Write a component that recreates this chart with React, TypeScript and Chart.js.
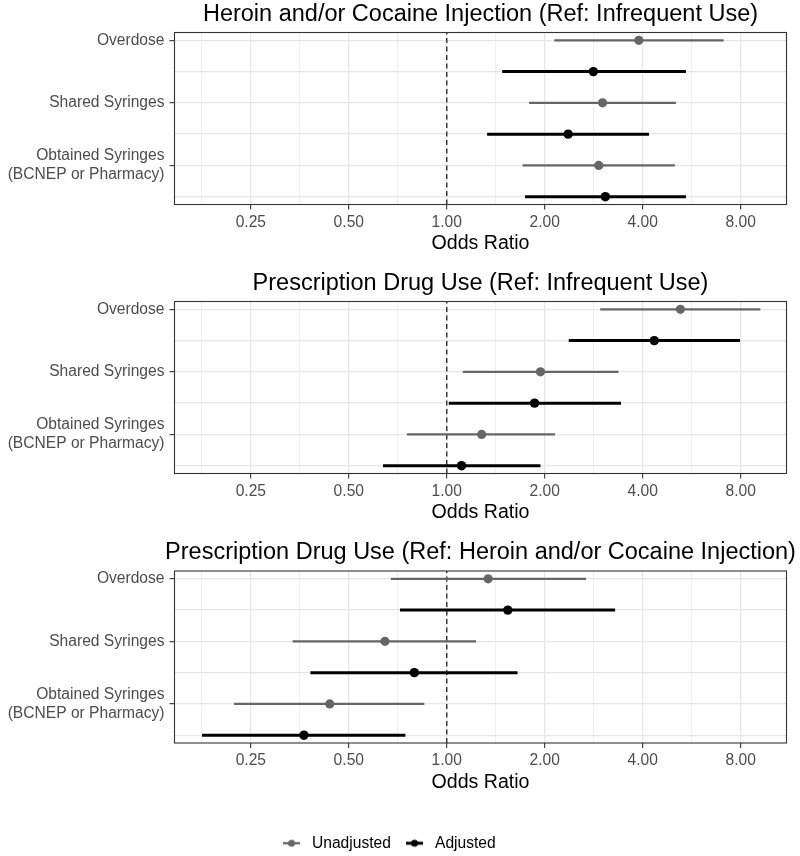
import React, { useEffect, useRef } from 'react';
import { Chart, registerables } from 'chart.js';

Chart.register(...registerables);

const FONT = "'Liberation Sans', Arial, sans-serif";
const GREY = '#666666';
const BLACK = '#000000';

// ---- Data ----
const outcomeLabels: (string | string[])[] = [
  'Overdose',
  'Shared Syringes',
  ['Obtained Syringes', '(BCNEP or Pharmacy)'],
];
const panelTitles = [
  'Heroin and/or Cocaine Injection (Ref: Infrequent Use)',
  'Prescription Drug Use (Ref: Infrequent Use)',
  'Prescription Drug Use (Ref: Heroin and/or Cocaine Injection)',
];
const seriesNames = ['Unadjusted', 'Adjusted'];
const xMajorTicks = [0.25, 0.5, 1, 2, 4, 8];
const xMinorTicks = [0.1768, 0.3536, 0.7071, 1.4142, 2.8284, 5.6569];
const xLimits = [0.1457, 11.06];
const rowUnadjusted = [6, 4, 2];
const rowAdjusted = [5, 3, 1];
const yLimits = [0.75, 6.25];
const referenceOR = 1;

// Panel 1: Heroin and/or Cocaine Injection (Ref: Infrequent Use)
const p1UnadjOR = [3.89, 3.01, 2.93];
const p1UnadjLo = [2.14, 1.79, 1.71];
const p1UnadjHi = [7.09, 5.06, 5.02];
const p1AdjOR = [2.82, 2.36, 3.07];
const p1AdjLo = [1.48, 1.33, 1.74];
const p1AdjHi = [5.43, 4.18, 5.43];

// Panel 2: Prescription Drug Use (Ref: Infrequent Use)
const p2UnadjOR = [5.22, 1.94, 1.28];
const p2UnadjLo = [2.96, 1.12, 0.755];
const p2UnadjHi = [9.19, 3.37, 2.15];
const p2AdjOR = [4.34, 1.86, 1.11];
const p2AdjLo = [2.37, 1.014, 0.637];
const p2AdjHi = [7.96, 3.43, 1.94];

// Panel 3: Prescription Drug Use (Ref: Heroin and/or Cocaine Injection)
const p3UnadjOR = [1.34, 0.646, 0.437];
const p3UnadjLo = [0.673, 0.336, 0.222];
const p3UnadjHi = [2.68, 1.23, 0.853];
const p3AdjOR = [1.54, 0.795, 0.364];
const p3AdjLo = [0.718, 0.381, 0.177];
const p3AdjHi = [3.29, 1.65, 0.746];

const panels = [
  { title: panelTitles[0], uOR: p1UnadjOR, uLo: p1UnadjLo, uHi: p1UnadjHi, aOR: p1AdjOR, aLo: p1AdjLo, aHi: p1AdjHi },
  { title: panelTitles[1], uOR: p2UnadjOR, uLo: p2UnadjLo, uHi: p2UnadjHi, aOR: p2AdjOR, aLo: p2AdjLo, aHi: p2AdjHi },
  { title: panelTitles[2], uOR: p3UnadjOR, uLo: p3UnadjLo, uHi: p3UnadjHi, aOR: p3AdjOR, aLo: p3AdjLo, aHi: p3AdjHi },
];

// ---- Layout (per canvas) ----
const canvasTops = [0, 269, 538];
const canvasHeights = [269, 269, 323];
const padTops = [32.5, 32.5, 33];
const xAxisHeights = [64.5, 64.5, 69.5];
const xTitlePadBottom = [13.2, 13.2, 17.7];
const TICK_SIZE = 15.6;

function makeKey(color: string, lw: number) {
  const c = document.createElement('canvas');
  c.width = 29;
  c.height = 12;
  const g = c.getContext('2d')!;
  g.strokeStyle = color;
  g.lineWidth = lw;
  g.beginPath();
  g.moveTo(0, 6);
  g.lineTo(17, 6);
  g.stroke();
  g.fillStyle = color;
  g.beginPath();
  g.arc(8.5, 6, 3.5, 0, Math.PI * 2);
  g.fill();
  return c;
}

const framePlugin = {
  id: 'panelFrame',
  afterDatasetsDraw(chart: any) {
    const { ctx, chartArea } = chart;
    ctx.save();
    ctx.strokeStyle = '#333333';
    ctx.lineWidth = 1.1;
    ctx.strokeRect(chartArea.left, chartArea.top, chartArea.right - chartArea.left, chartArea.bottom - chartArea.top);
    ctx.restore();
  },
};

const panelTitlePlugin = {
  id: 'panelTitle',
  afterDraw(chart: any, _args: any, opts: any) {
    const { ctx, chartArea } = chart;
    ctx.save();
    ctx.font = `23.5px ${FONT}`;
    ctx.fillStyle = '#000000';
    ctx.textAlign = 'center';
    ctx.textBaseline = 'alphabetic';
    ctx.fillText(opts.text, (chartArea.left + chartArea.right) / 2, chartArea.top - 11.6);
    ctx.restore();
  },
};

function Panel({ index }: { index: number }) {
  const ref = useRef<HTMLCanvasElement | null>(null);
  useEffect(() => {
    const p = panels[index];
    const datasets: any[] = [];
    datasets.push({
      label: 'ref',
      data: [
        { x: referenceOR, y: yLimits[0] },
        { x: referenceOR, y: yLimits[1] },
      ],
      borderColor: '#222222',
      borderWidth: 1.3,
      borderDash: [5, 3.5],
      pointRadius: 0,
      order: 3,
    });
    for (let i = 0; i < 3; i++) {
      datasets.push({
        label: 'u' + i,
        data: [
          { x: p.uLo[i], y: rowUnadjusted[i] },
          { x: p.uHi[i], y: rowUnadjusted[i] },
        ],
        borderColor: GREY,
        borderWidth: 2.3,
        pointRadius: 0,
        order: 2,
      });
      datasets.push({
        label: 'a' + i,
        data: [
          { x: p.aLo[i], y: rowAdjusted[i] },
          { x: p.aHi[i], y: rowAdjusted[i] },
        ],
        borderColor: BLACK,
        borderWidth: 3,
        pointRadius: 0,
        order: 2,
      });
    }
    datasets.push({
      label: seriesNames[0],
      data: p.uOR.map((v, i) => ({ x: v, y: rowUnadjusted[i] })),
      showLine: false,
      pointRadius: 4.6,
      pointBorderWidth: 0,
      pointBackgroundColor: GREY,
      borderColor: GREY,
      order: 1,
    });
    datasets.push({
      label: seriesNames[1],
      data: p.aOR.map((v, i) => ({ x: v, y: rowAdjusted[i] })),
      showLine: false,
      pointRadius: 4.7,
      pointBorderWidth: 0,
      pointBackgroundColor: BLACK,
      borderColor: BLACK,
      order: 1,
    });

    const keyGrey = makeKey(GREY, 2.3);
    const keyBlack = makeKey(BLACK, 3);
    const isLast = index === 2;
    const allXTicks = [...xMinorTicks, ...xMajorTicks].sort((a, b) => a - b);
    const isMajorX = (v: number) => xMajorTicks.indexOf(v) >= 0;

    const chart = new Chart(ref.current!, {
      type: 'line',
      data: { datasets },
      plugins: [framePlugin, panelTitlePlugin],
      options: {
        responsive: false,
        animation: false,
        events: [],
        layout: { padding: { top: padTops[index], right: 13.5, left: 0, bottom: 0 } },
        scales: {
          x: {
            type: 'logarithmic',
            min: xLimits[0],
            max: xLimits[1],
            bounds: 'data',
            afterBuildTicks: (s: any) => {
              s.ticks = allXTicks.map((v) => ({ value: v }));
            },
            afterFit: (s: any) => {
              s.height = xAxisHeights[index];
            },
            ticks: {
              autoSkip: false,
              maxRotation: 0,
              minRotation: 0,
              color: '#4D4D4D',
              font: { family: FONT, size: TICK_SIZE },
              padding: 3.5,
              callback: (v: any) => (isMajorX(Number(v)) ? Number(v).toFixed(2) : ''),
            },
            grid: {
              color: (c: any) => (c.tick && isMajorX(c.tick.value) ? '#E6E6E6' : '#EBEBEB'),
              lineWidth: (c: any) => (c.tick && isMajorX(c.tick.value) ? 1.3 : 0.8),
              tickLength: 5,
              tickWidth: 1.1,
              tickColor: (c: any) => (c.tick && isMajorX(c.tick.value) ? '#333333' : 'rgba(0,0,0,0)'),
            },
            border: { display: false },
            title: {
              display: true,
              text: 'Odds Ratio',
              color: '#000000',
              font: { family: FONT, size: 19.6 },
              padding: { top: 0, bottom: xTitlePadBottom[index] },
            },
          },
          y: {
            type: 'linear',
            min: yLimits[0],
            max: yLimits[1],
            afterBuildTicks: (s: any) => {
              s.ticks = [1, 2, 3, 4, 5, 6].map((v) => ({ value: v }));
            },
            afterFit: (s: any) => {
              s.width = 174.5;
            },
            ticks: {
              autoSkip: false,
              color: '#4D4D4D',
              font: { family: FONT, size: TICK_SIZE },
              padding: 5,
              callback: (v: any) => {
                const k = rowUnadjusted.indexOf(Number(v));
                return k >= 0 ? (outcomeLabels[k] as any) : '';
              },
            },
            grid: {
              color: '#E6E6E6',
              lineWidth: 1.3,
              tickLength: 5,
              tickWidth: 1.1,
              tickColor: (c: any) => (c.tick && rowUnadjusted.indexOf(c.tick.value) >= 0 ? '#333333' : 'rgba(0,0,0,0)'),
            },
            border: { display: false },
          },
        },
        plugins: {
          tooltip: { enabled: false },
          title: { display: false },
          panelTitle: { text: p.title },
          legend: {
            display: isLast,
            position: 'bottom',
            align: 'center',
            labels: {
              usePointStyle: true,
              pointStyleWidth: 13.4,
              padding: 22.9,
              color: '#000000',
              font: { family: FONT, size: TICK_SIZE },
              generateLabels: () => [
                { text: seriesNames[0], pointStyle: keyGrey, fillStyle: GREY, strokeStyle: GREY, lineWidth: 0, hidden: false, fontColor: '#000000' },
                { text: seriesNames[1], pointStyle: keyBlack, fillStyle: BLACK, strokeStyle: BLACK, lineWidth: 0, hidden: false, fontColor: '#000000' },
              ],
            },
          },
        } as any,
      } as any,
    });
    return () => chart.destroy();
  }, [index]);

  return (
    <canvas
      ref={ref}
      width={800}
      height={canvasHeights[index]}
      style={{ position: 'absolute', left: 0, top: canvasTops[index], width: 800, height: canvasHeights[index] }}
    />
  );
}

export default function App() {
  useEffect(() => {
    document.body.style.margin = '0';
  }, []);
  return (
    <div style={{ position: 'relative', width: 800, height: 856, overflow: 'hidden', background: '#ffffff' }}>
      <Panel index={0} />
      <Panel index={1} />
      <Panel index={2} />
    </div>
  );
}
